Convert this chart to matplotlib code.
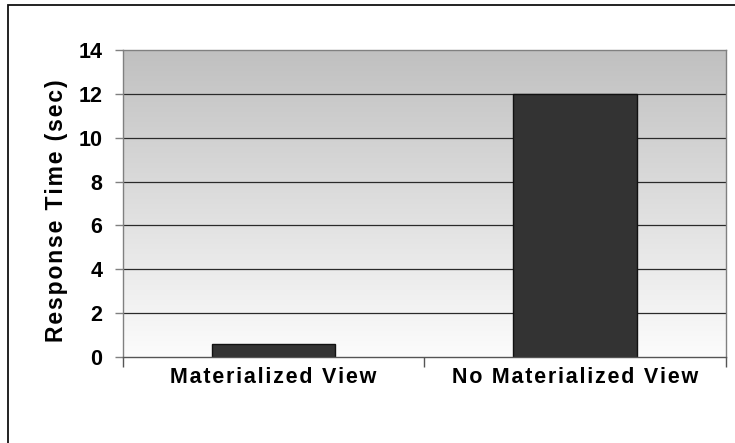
import numpy as np
import matplotlib
matplotlib.use("Agg")
import matplotlib.pyplot as plt
from matplotlib.patches import Rectangle

# Response times for each query strategy
categories = ["Materialized View", "No Materialized View"]
response_sec = [0.58, 12.0]
y_ticks = [0, 2, 4, 6, 8, 10, 12, 14]
y_label = "Response Time (sec)"

FONT = ["Liberation Sans", "DejaVu Sans"]
HS = "\u200a"


def tracked(s):
    return HS.join(s)


W, H = 735, 443
fig = plt.figure(figsize=(W / 100, H / 100), dpi=100)
fig.patch.set_facecolor("white")

# outer chart frame
fig.add_artist(Rectangle((8 / W, -0.1), 1.2, 1.1 - 5 / H,
                         transform=fig.transFigure, fill=False,
                         edgecolor="#111111", linewidth=1.3))

left, right, top, bottom = 123 / W, 725.5 / W, 1 - 50 / H, 1 - 357 / H
ax = fig.add_axes([left, bottom, right - left, top - bottom])

# vertical gray gradient behind the plot area
grad = np.linspace(252, 192, 256).reshape(-1, 1) / 255.0
ax.imshow(np.dstack([grad, grad, grad]), extent=[0, 1, 0, 1],
          transform=ax.transAxes, aspect="auto", origin="lower", zorder=0)

x = np.arange(len(categories))
ax.set_xlim(-0.5, len(categories) - 0.5)
ax.set_ylim(y_ticks[0], y_ticks[-1])

for yv in y_ticks[1:-1]:
    ax.axhline(yv, color="#2a2a2a", linewidth=0.9, zorder=1)

ax.bar(x, response_sec, width=0.41, color="#333333",
       edgecolor="#111111", linewidth=1.0, zorder=2)

for sp in ax.spines.values():
    sp.set_color("#808080")
    sp.set_linewidth(1.0)
ax.spines["bottom"].set_color("#555555")

ax.set_yticks(y_ticks)
ax.set_yticklabels([str(v) for v in y_ticks], fontfamily=FONT,
                   fontweight="bold", fontsize=15.5)
ax.tick_params(axis="y", direction="out", length=6, width=1.0,
               color="#808080", pad=9)

# category boundary ticks on the x axis
ax.set_xticks([-0.5, 0.5, 1.5])
ax.set_xticklabels([])
ax.tick_params(axis="x", direction="out", length=7, width=1.0,
               color="#555555")
for xi, lab in zip(x, categories):
    ax.text(xi, -0.034, tracked(lab), transform=ax.get_xaxis_transform(),
            ha="center", va="top", fontfamily=FONT, fontweight="bold",
            fontsize=15.5, color="black")

fig.text(56 / W, (1 - 211 / H), tracked(y_label), rotation=90,
         ha="center", va="center", fontfamily=FONT, fontweight="bold",
         fontsize=16.5, color="black")

fig.savefig("out.png", dpi=100, facecolor="white")
